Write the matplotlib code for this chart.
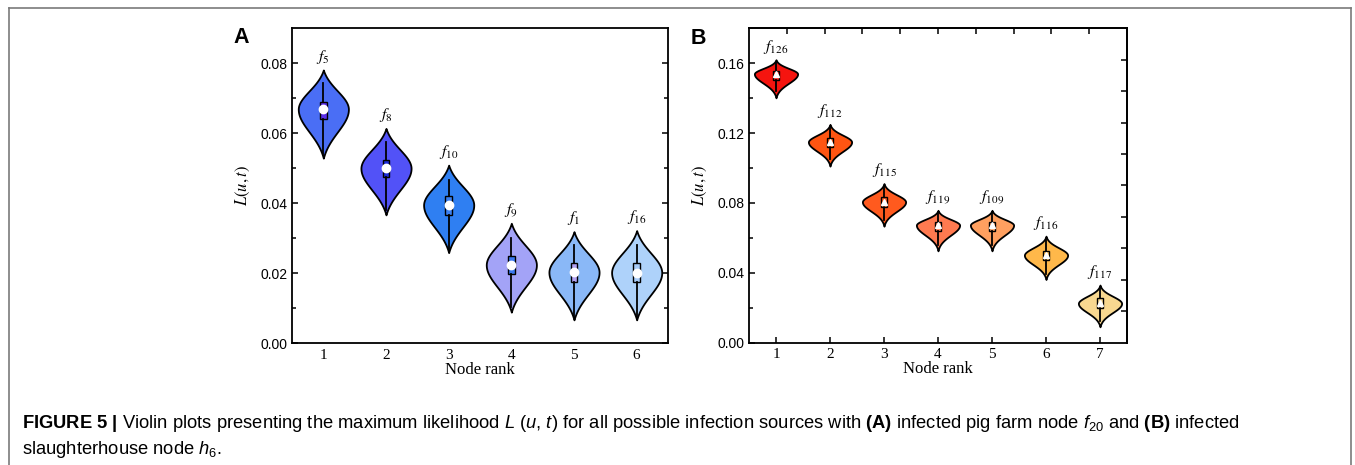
import numpy as np
import matplotlib
matplotlib.use("Agg")
import matplotlib.pyplot as plt
from matplotlib.lines import Line2D

plt.rcParams['mathtext.fontset'] = 'custom'
plt.rcParams['mathtext.rm'] = 'Liberation Sans'
plt.rcParams['mathtext.it'] = 'Liberation Sans:italic'
plt.rcParams['mathtext.bf'] = 'Liberation Sans:bold'

# ---------------- data ----------------
ranks_a = [1, 2, 3, 4, 5, 6]
names_a = ['5', '8', '10', '9', '1', '16']
med_a = [0.0669, 0.0500, 0.0395, 0.0224, 0.0203, 0.0202]
q1_a = [0.0640, 0.0474, 0.0366, 0.0197, 0.0176, 0.0176]
q3_a = [0.0690, 0.0524, 0.0420, 0.0249, 0.0229, 0.0229]
lo_a = [0.0529, 0.0367, 0.0259, 0.0089, 0.0067, 0.0067]
hi_a = [0.0781, 0.0614, 0.0509, 0.0343, 0.0319, 0.0322]
whislo_a = [0.0540, 0.0380, 0.0270, 0.0105, 0.0075, 0.0075]
whishi_a = [0.0743, 0.0576, 0.0467, 0.0300, 0.0282, 0.0282]
colors_a = ['#4a6ef5', '#5252f7', '#2f7ff2', '#a3a3f7', '#8ab8f7', '#aed2fa']
boxcol_a = ['#5a2ee8', '#1c2ad8', '#3b7ff0', '#3a78f0', '#b2a2f2', '#a8ccf8']

ranks_b = [1, 2, 3, 4, 5, 6, 7]
names_b = ['126', '112', '115', '119', '109', '116', '117']
med_b = [0.1539, 0.1149, 0.0806, 0.0673, 0.0673, 0.0501, 0.0225]
q1_b = [0.1505, 0.1120, 0.0777, 0.0640, 0.0640, 0.0473, 0.0197]
q3_b = [0.1557, 0.1174, 0.0834, 0.0691, 0.0691, 0.0526, 0.0254]
lo_b = [0.1402, 0.1011, 0.0667, 0.0526, 0.0526, 0.0362, 0.0091]
hi_b = [0.1620, 0.1250, 0.0911, 0.0758, 0.0758, 0.0610, 0.0330]
whislo_b = [0.1440, 0.1050, 0.0700, 0.0560, 0.0560, 0.0395, 0.0125]
whishi_b = [0.1606, 0.1231, 0.0895, 0.0740, 0.0740, 0.0592, 0.0312]
colors_b = ['#f5140f', '#ff5512', '#ff5a1e', '#ff7a50', '#ffa060', '#ffb84a', '#f8d890']

SHAPE_A = 0.66   # width-profile parameter of violin bodies
SHAPE_B = 0.55


def profile(coords, med, lo, hi, a):
    t = np.where(coords >= med, (coords - med) / (hi - med), (med - coords) / (med - lo))
    t = np.clip(t, 0, 1)
    base = np.exp(-1.0 / a ** 2)
    return (np.exp(-(t / a) ** 2) - base) / (1 - base)


def draw_panel(ax, ranks, names, med, q1, q3, lo, hi, wlo, whi, colors, boxcols, shape,
               marker, ylim, yticks, yminor, label_y_off):
    vpstats = []
    for m, l, h in zip(med, lo, hi):
        coords = np.linspace(l, h, 300)
        vpstats.append(dict(coords=coords, vals=profile(coords, m, l, h, shape),
                            mean=m, median=m, min=l, max=h))
    parts = ax.violin(vpstats, positions=ranks, widths=0.8, showextrema=False)
    for body, c in zip(parts['bodies'], colors):
        body.set_facecolor(c)
        body.set_edgecolor('black')
        body.set_linewidth(1.3)
        body.set_alpha(1)
        body.set_zorder(2)
    bstats = []
    for m, a1, a3, wl, wh in zip(med, q1, q3, wlo, whi):
        bstats.append(dict(med=m, q1=a1, q3=a3, whislo=wl, whishi=wh, mean=m, fliers=[]))
    bp = ax.bxp(bstats, positions=ranks, widths=0.11, patch_artist=True, showcaps=False,
                showfliers=False, showmeans=True, manage_ticks=False,
                whiskerprops=dict(color='black', linewidth=1.3),
                medianprops=dict(linewidth=0),
                boxprops=dict(edgecolor='black', linewidth=1.0),
                meanprops=dict(marker=marker, markerfacecolor='white',
                               markeredgecolor='white', markersize=6 if marker == 'o' else 4.5))
    for box, c in zip(bp['boxes'], boxcols):
        box.set_facecolor(c)
        box.set_zorder(3)
    for art in bp['whiskers']:
        art.set_zorder(3)
    for art in bp['means']:
        art.set_zorder(4)
    for r, n, h in zip(ranks, names, hi):
        ax.annotate(r'$f_{\mathrm{%s}}$' % n, (r, h), xytext=(0, label_y_off),
                    textcoords='offset points', ha='center', va='bottom', fontsize=11.5,
                    math_fontfamily='stix')
    ax.set_ylim(*ylim)
    ax.set_xlim(0.5, len(ranks) + 0.5)
    ax.set_yticks(yticks)
    ax.set_yticks(yminor, minor=True)
    ax.set_yticklabels(['%.2f' % v for v in yticks], fontfamily='Liberation Sans', fontsize=10)
    ax.set_xticks(ranks)
    ax.set_xticklabels([str(r) for r in ranks], fontfamily='Liberation Serif', fontsize=11)
    ax.tick_params(axis='y', which='both', direction='in', left=True, right=True,
                   length=4, width=1.1, pad=3)
    ax.tick_params(axis='y', which='minor', length=3)
    ax.set_xlabel('Node rank', fontfamily='Liberation Serif', fontsize=12, labelpad=0)
    ax.set_ylabel(r'$L(u,t)$', fontsize=12, math_fontfamily='stix', labelpad=6)
    for s in ax.spines.values():
        s.set_linewidth(1.3)


fig = plt.figure(figsize=(13.55, 4.65), dpi=100)
W, H = 1355, 465

axA = fig.add_axes([292 / W, 1 - 343.3 / H, (668 - 292) / W, (343.3 - 28.3) / H])
draw_panel(axA, ranks_a, names_a, med_a, q1_a, q3_a, lo_a, hi_a, whislo_a, whishi_a,
           colors_a, boxcol_a, SHAPE_A, 'o', (0, 0.09),
           [0.0, 0.02, 0.04, 0.06, 0.08], [0.01, 0.03, 0.05, 0.07], 3)
axA.tick_params(axis='x', which='both', length=0, pad=4)

axB = fig.add_axes([749 / W, 1 - 342.7 / H, (1127 - 749) / W, (342.7 - 28.3) / H])
draw_panel(axB, ranks_b, names_b, med_b, q1_b, q3_b, lo_b, hi_b, whislo_b, whishi_b,
           colors_b, colors_b, SHAPE_B, '^', (0, 0.18),
           [0.0, 0.04, 0.08, 0.12, 0.16], [0.02, 0.06, 0.10, 0.14], 3)
axB.tick_params(axis='y', which='both', right=False)
axB.tick_params(axis='x', which='major', direction='in', length=4, width=1.1, pad=4, top=False)
# secondary frame ticks (top / right) of panel B
secx = axB.secondary_xaxis('top')
secx.set_xticks([0.5 + 0.7 * k for k in range(1, 10)])
secx.tick_params(direction='in', length=4, width=1.1, labeltop=False)
secy = axB.secondary_yaxis('right')
secy.set_yticks([0.018 * k for k in range(1, 10)])
secy.tick_params(direction='in', length=4, width=1.1, labelright=False)
for s in list(secx.spines.values()) + list(secy.spines.values()):
    s.set_linewidth(1.3)

fig.text(233 / W, 1 - 43 / H, 'A', fontfamily='Liberation Sans', fontweight='bold',
         fontsize=15.5, ha='left', va='baseline')
fig.text(691 / W, 1 - 44 / H, 'B', fontfamily='Liberation Sans', fontweight='bold',
         fontsize=15.5, ha='left', va='baseline')

# figure border
for xs, ys in [([9, 9], [470, 8.5]), ([9, 1350.5], [8.5, 8.5]), ([1350.5, 1350.5], [8.5, 470])]:
    fig.add_artist(Line2D([x / W for x in xs], [1 - y / H for y in ys], color='#7a7a7a',
                          linewidth=1.2, transform=fig.transFigure))

cap1 = (r'$\mathbf{FIGURE\ 5\ |}$ Violin plots presenting the maximum likelihood $L$ ($u$, $t$) '
        r'for all possible infection sources with $\mathbf{(A)}$ infected pig farm node '
        r'$f_{20}$ and $\mathbf{(B)}$ infected')
cap2 = r'slaughterhouse node $h_6$.'
fig.text(22 / W, 1 - 428 / H, cap1, fontfamily='Liberation Sans', fontsize=13.2,
         ha='left', va='baseline', math_fontfamily='custom')
fig.text(22 / W, 1 - 454 / H, cap2, fontfamily='Liberation Sans', fontsize=13.2,
         ha='left', va='baseline', math_fontfamily='custom')

fig.savefig('out.png', dpi=100)
